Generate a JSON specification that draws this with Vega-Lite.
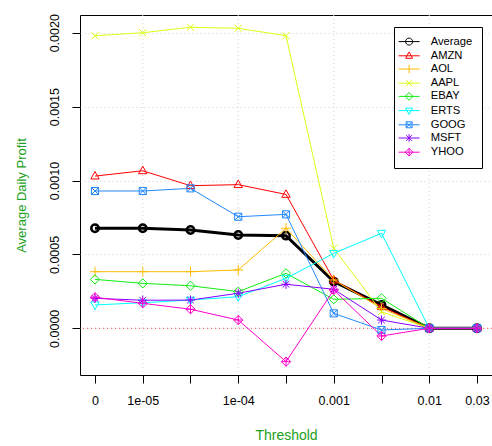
{
  "$schema": "https://vega.github.io/schema/vega-lite/v6.json",
  "width": 412,
  "height": 360,
  "autosize": "none",
  "padding": {"left": 80, "top": 15, "right": 0, "bottom": 71},
  "background": "white",
  "config": {
    "font": "Liberation Sans",
    "view": {"stroke": "black", "strokeWidth": 1},
    "axis": {"labelFont": "Liberation Sans", "titleFont": "Liberation Sans", "labelColor": "black", "tickColor": "black", "titleFontWeight": "normal", "titleColor": "#22a022", "domain": false}
  },
  "datasets": {
    "d": [
      {"series":"Average","idx":1,"threshold":"0","value":0.000677},
      {"series":"Average","idx":2,"threshold":"1e-05","value":0.000677},
      {"series":"Average","idx":3,"threshold":"5e-05","value":0.000665},
      {"series":"Average","idx":4,"threshold":"1e-04","value":0.000631},
      {"series":"Average","idx":5,"threshold":"5e-04","value":0.000627},
      {"series":"Average","idx":6,"threshold":"0.001","value":0.000316},
      {"series":"Average","idx":7,"threshold":"0.005","value":0.000158},
      {"series":"Average","idx":8,"threshold":"0.01","value":0},
      {"series":"Average","idx":9,"threshold":"0.03","value":0},
      {"series":"AMZN","idx":1,"threshold":"0","value":0.00103},
      {"series":"AMZN","idx":2,"threshold":"1e-05","value":0.001066},
      {"series":"AMZN","idx":3,"threshold":"5e-05","value":0.000965},
      {"series":"AMZN","idx":4,"threshold":"1e-04","value":0.000972},
      {"series":"AMZN","idx":5,"threshold":"5e-04","value":0.000906},
      {"series":"AMZN","idx":6,"threshold":"0.001","value":0.000327},
      {"series":"AMZN","idx":7,"threshold":"0.005","value":0.000146},
      {"series":"AMZN","idx":8,"threshold":"0.01","value":0},
      {"series":"AMZN","idx":9,"threshold":"0.03","value":0},
      {"series":"AOL","idx":1,"threshold":"0","value":0.000383},
      {"series":"AOL","idx":2,"threshold":"1e-05","value":0.000383},
      {"series":"AOL","idx":3,"threshold":"5e-05","value":0.000383},
      {"series":"AOL","idx":4,"threshold":"1e-04","value":0.000395},
      {"series":"AOL","idx":5,"threshold":"5e-04","value":0.000677},
      {"series":"AOL","idx":6,"threshold":"0.001","value":0.000327},
      {"series":"AOL","idx":7,"threshold":"0.005","value":0.000135},
      {"series":"AOL","idx":8,"threshold":"0.01","value":0},
      {"series":"AOL","idx":9,"threshold":"0.03","value":0},
      {"series":"AAPL","idx":1,"threshold":"0","value":0.00198},
      {"series":"AAPL","idx":2,"threshold":"1e-05","value":0.002},
      {"series":"AAPL","idx":3,"threshold":"5e-05","value":0.002037},
      {"series":"AAPL","idx":4,"threshold":"1e-04","value":0.00203},
      {"series":"AAPL","idx":5,"threshold":"5e-04","value":0.00198},
      {"series":"AAPL","idx":6,"threshold":"0.001","value":0.000541},
      {"series":"AAPL","idx":7,"threshold":"0.005","value":0.000112},
      {"series":"AAPL","idx":8,"threshold":"0.01","value":0},
      {"series":"AAPL","idx":9,"threshold":"0.03","value":0},
      {"series":"EBAY","idx":1,"threshold":"0","value":0.000331},
      {"series":"EBAY","idx":2,"threshold":"1e-05","value":0.000304},
      {"series":"EBAY","idx":3,"threshold":"5e-05","value":0.000288},
      {"series":"EBAY","idx":4,"threshold":"1e-04","value":0.000248},
      {"series":"EBAY","idx":5,"threshold":"5e-04","value":0.000372},
      {"series":"EBAY","idx":6,"threshold":"0.001","value":0.000196},
      {"series":"EBAY","idx":7,"threshold":"0.005","value":0.000203},
      {"series":"EBAY","idx":8,"threshold":"0.01","value":0},
      {"series":"EBAY","idx":9,"threshold":"0.03","value":0},
      {"series":"ERTS","idx":1,"threshold":"0","value":0.000158},
      {"series":"ERTS","idx":2,"threshold":"1e-05","value":0.000173},
      {"series":"ERTS","idx":3,"threshold":"5e-05","value":0.000191},
      {"series":"ERTS","idx":4,"threshold":"1e-04","value":0.000214},
      {"series":"ERTS","idx":5,"threshold":"5e-04","value":0.000338},
      {"series":"ERTS","idx":6,"threshold":"0.001","value":0.000507},
      {"series":"ERTS","idx":7,"threshold":"0.005","value":0.000643},
      {"series":"ERTS","idx":8,"threshold":"0.01","value":0},
      {"series":"ERTS","idx":9,"threshold":"0.03","value":0},
      {"series":"GOOG","idx":1,"threshold":"0","value":0.000929},
      {"series":"GOOG","idx":2,"threshold":"1e-05","value":0.000929},
      {"series":"GOOG","idx":3,"threshold":"5e-05","value":0.000947},
      {"series":"GOOG","idx":4,"threshold":"1e-04","value":0.000755},
      {"series":"GOOG","idx":5,"threshold":"5e-04","value":0.000771},
      {"series":"GOOG","idx":6,"threshold":"0.001","value":0.000101},
      {"series":"GOOG","idx":7,"threshold":"0.005","value":-0.0000115},
      {"series":"GOOG","idx":8,"threshold":"0.01","value":0},
      {"series":"GOOG","idx":9,"threshold":"0.03","value":0},
      {"series":"MSFT","idx":1,"threshold":"0","value":0.000203},
      {"series":"MSFT","idx":2,"threshold":"1e-05","value":0.00019},
      {"series":"MSFT","idx":3,"threshold":"5e-05","value":0.000191},
      {"series":"MSFT","idx":4,"threshold":"1e-04","value":0.000237},
      {"series":"MSFT","idx":5,"threshold":"5e-04","value":0.000298},
      {"series":"MSFT","idx":6,"threshold":"0.001","value":0.000264},
      {"series":"MSFT","idx":7,"threshold":"0.005","value":0.000056},
      {"series":"MSFT","idx":8,"threshold":"0.01","value":0},
      {"series":"MSFT","idx":9,"threshold":"0.03","value":0},
      {"series":"YHOO","idx":1,"threshold":"0","value":0.00021},
      {"series":"YHOO","idx":2,"threshold":"1e-05","value":0.000169},
      {"series":"YHOO","idx":3,"threshold":"5e-05","value":0.000129},
      {"series":"YHOO","idx":4,"threshold":"1e-04","value":0.000056},
      {"series":"YHOO","idx":5,"threshold":"5e-04","value":-0.000226},
      {"series":"YHOO","idx":6,"threshold":"0.001","value":0.000259},
      {"series":"YHOO","idx":7,"threshold":"0.005","value":-0.000052},
      {"series":"YHOO","idx":8,"threshold":"0.01","value":0},
      {"series":"YHOO","idx":9,"threshold":"0.03","value":0}
    ],
    "grid": [{"idx": 2}, {"idx": 4}, {"idx": 6}, {"idx": 8}],
    "zero": [{"value": 0}]
  },
  "layer": [
    {
      "data": {"name": "grid"},
      "mark": {"type": "rule", "color": "#d3d3d3", "strokeDash": [1, 3], "strokeWidth": 1},
      "encoding": {
        "x": {"field": "idx", "type": "quantitative", "scale": {"domain": [0.686, 9.314], "nice": false, "zero": false},
          "axis": {"values": [1,2,3,4,5,6,7,8,9], "grid": false, "title": "Threshold", "titleFontSize": 14, "titlePadding": 22, "labelFontSize": 12.5, "tickSize": 8, "labelPadding": 11,
            "labelExpr": "datum.value==1?'0':datum.value==2?'1e-05':datum.value==4?'1e-04':datum.value==6?'0.001':datum.value==8?'0.01':datum.value==9?'0.03':''"}}
      }
    },
    {
      "data": {"name": "zero"},
      "mark": {"type": "rule", "color": "#ff4a4a", "strokeDash": [1, 3], "strokeWidth": 1},
      "encoding": {
        "y": {"field": "value", "type": "quantitative", "scale": {"domain": [-0.000316, 0.00212], "nice": false, "zero": false},
          "axis": {"values": [0, 0.0005, 0.001, 0.0015, 0.002], "format": ".4f", "grid": true, "gridColor": "#d3d3d3", "gridDash": [1, 3], "title": "Average Daily Profit", "titleFontSize": 13, "titlePadding": 20, "labelFontSize": 12.5, "labelAngle": -90, "labelAlign": "center", "labelBaseline": "alphabetic", "tickSize": 8, "labelPadding": 14}}
      }
    },
    {
      "data": {"name": "d"},
      "transform": [{"filter": "datum.series === 'Average'"}],
      "mark": {"type": "line", "strokeWidth": 3},
      "encoding": {
        "x": {"field": "idx", "type": "quantitative"},
        "y": {"field": "value", "type": "quantitative"},
        "color": {"field": "series", "type": "nominal",
          "scale": {"domain": ["Average","AMZN","AOL","AAPL","EBAY","ERTS","GOOG","MSFT","YHOO"], "range": ["#000000","#ff0000","#ffbb00","#ddff11","#11ee11","#00ffff","#2288ff","#8800ff","#ff00cc"]},
          "legend": {"title": null, "orient": "none", "legendX": 314, "legendY": 12, "padding": 9, "strokeColor": "black", "fillColor": "white", "cornerRadius": 0, "rowPadding": 1.2, "labelFontSize": 11.2, "labelFont": "Liberation Sans", "labelColor": "black", "symbolSize": 49, "symbolStrokeWidth": 1, "symbolOffset": 0.5, "labelOffset": 16, "symbolFillColor": "transparent",
            "symbolType": {"expr": "datum.value==='Average'?'M-3,0L3,0M1,0A1,1,0,1,1,-1,0A1,1,0,1,1,1,0':datum.value==='AMZN'?'M-3,0L3,0M0,-1.1L1,0.7L-1,0.7Z':datum.value==='AOL'?'M-3,0L3,0M0,-1.2L0,1.2':datum.value==='AAPL'?'M-3,0L3,0M-0.85,-0.85L0.85,0.85M-0.85,0.85L0.85,-0.85':datum.value==='EBAY'?'M-3,0L3,0M0,-1.1L1.1,0L0,1.1L-1.1,0Z':datum.value==='ERTS'?'M-3,0L3,0M0,1.1L1,-0.7L-1,-0.7Z':datum.value==='GOOG'?'M-3,0L3,0M-0.85,-0.85L0.85,-0.85L0.85,0.85L-0.85,0.85ZM-0.85,-0.85L0.85,0.85M-0.85,0.85L0.85,-0.85':datum.value==='MSFT'?'M-3,0L3,0M0,-1.1L0,1.1M-0.8,-0.8L0.8,0.8M-0.8,0.8L0.8,-0.8':'M-3,0L3,0M0,-1.1L1.1,0L0,1.1L-1.1,0ZM0,-1.1L0,1.1'"}
          }
        }
      }
    },
    {
      "data": {"name": "d"},
      "transform": [{"filter": "datum.series === 'Average'"}],
      "mark": {"type": "point", "filled": false, "strokeWidth": 2.5, "size": 55, "opacity": 1, "shape": "M1,0A1,1,0,1,1,-1,0A1,1,0,1,1,1,0"},
      "encoding": {
        "x": {"field": "idx", "type": "quantitative"},
        "y": {"field": "value", "type": "quantitative"},
        "color": {"field": "series", "type": "nominal"}
      }
    },
    {
      "data": {"name": "d"},
      "transform": [{"filter": "datum.series !== 'Average'"}],
      "mark": {"type": "line", "strokeWidth": 1},
      "encoding": {
        "x": {"field": "idx", "type": "quantitative"},
        "y": {"field": "value", "type": "quantitative"},
        "color": {"field": "series", "type": "nominal"}
      }
    },
    {
      "data": {"name": "d"},
      "transform": [{"filter": "datum.series !== 'Average'"}],
      "mark": {"type": "point", "filled": false, "strokeWidth": 1, "size": 70, "opacity": 1,
        "shape": {"expr": "datum.series==='AMZN'?'M0,-1.1L1,0.7L-1,0.7Z':datum.series==='AOL'?'M-1.2,0L1.2,0M0,-1.2L0,1.2':datum.series==='AAPL'?'M-0.85,-0.85L0.85,0.85M-0.85,0.85L0.85,-0.85':datum.series==='EBAY'?'M0,-1.1L1.1,0L0,1.1L-1.1,0Z':datum.series==='ERTS'?'M0,1.1L1,-0.7L-1,-0.7Z':datum.series==='GOOG'?'M-0.85,-0.85L0.85,-0.85L0.85,0.85L-0.85,0.85ZM-0.85,-0.85L0.85,0.85M-0.85,0.85L0.85,-0.85':datum.series==='MSFT'?'M-1.1,0L1.1,0M0,-1.1L0,1.1M-0.8,-0.8L0.8,0.8M-0.8,0.8L0.8,-0.8':'M0,-1.1L1.1,0L0,1.1L-1.1,0ZM-1.1,0L1.1,0M0,-1.1L0,1.1'"}},
      "encoding": {
        "x": {"field": "idx", "type": "quantitative"},
        "y": {"field": "value", "type": "quantitative"},
        "color": {"field": "series", "type": "nominal"}
      }
    }
  ]
}
